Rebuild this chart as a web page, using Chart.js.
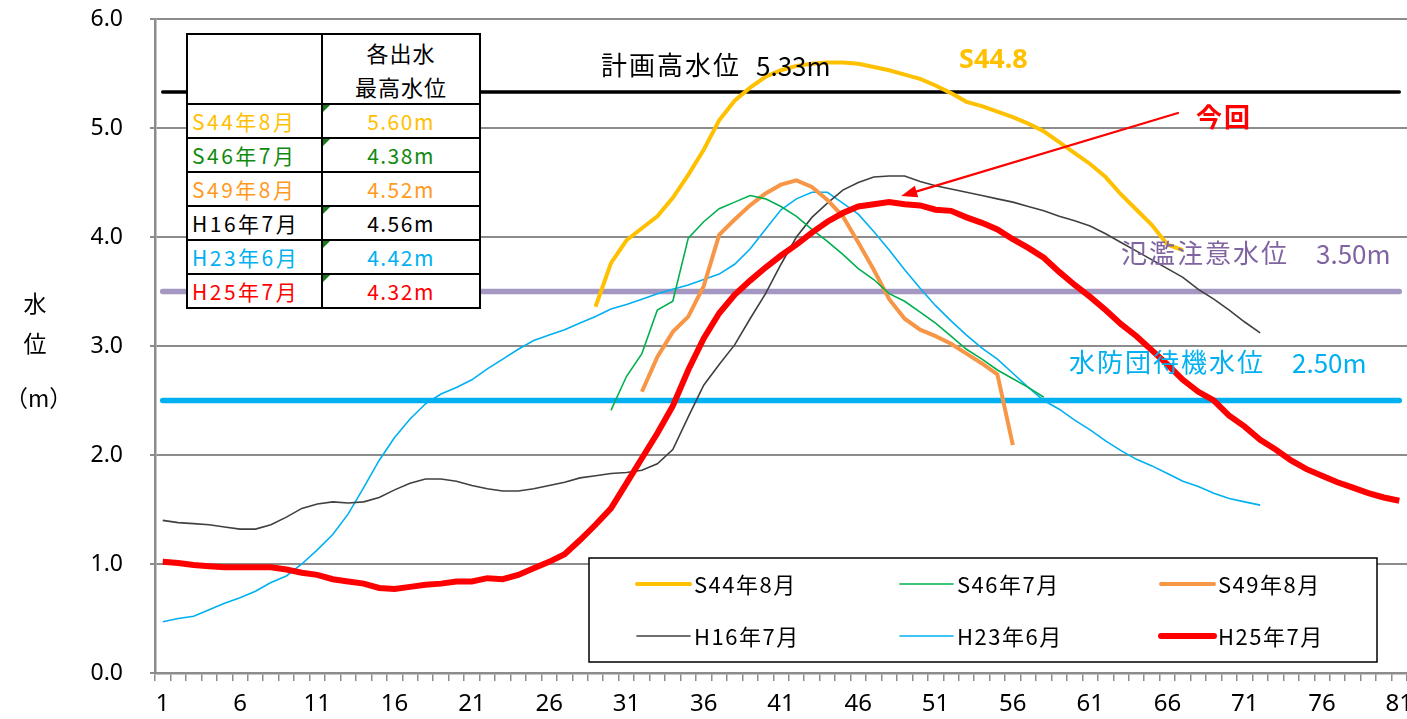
<!DOCTYPE html>
<html>
<head>
<meta charset="utf-8">
<script src="https://cdn.jsdelivr.net/npm/chart.js@4"></script>
<style>
  body { margin:0; background:#fff; overflow:hidden; width:1407px; height:719px; position:relative; }
  #wrap { position:absolute; left:0; top:0; width:1430px; height:719px; }
  .jp { font-family:"Noto Sans CJK JP", sans-serif; }
  #ytitle { position:absolute; left:5px; top:282px; width:60px; text-align:center; font-size:23px; line-height:40px; color:#000; }
  #ytitle .u { margin-top:15px; }
  #tbl { position:absolute; left:186px; top:33px; border-collapse:collapse; background:#fff; }
  #tbl td { border:2px solid #000; padding:0 4px; font-size:21px; line-height:1; height:32px; position:relative; letter-spacing:2.5px; }
  #tbl td.v { text-align:center; letter-spacing:1.5px; }
  #tbl td.h { text-align:center; font-size:22px; line-height:34px; height:67px; letter-spacing:1px; }
  #tbl td.tri::before { content:""; position:absolute; left:0; top:0; border-top:7px solid #1a7a1a; border-right:7px solid transparent; }
</style>
</head>
<body>
<div id="wrap"><canvas id="c" width="1430" height="719"></canvas></div>
<div id="ytitle" class="jp"><div>水</div><div>位</div><div class="u">（m）</div></div>
<table id="tbl" class="jp"></table>
<script>
const labels = Array.from({ length: 81 }, (_, i) => String(i + 1));

const seriesNames = ['S44年8月', 'S46年7月', 'S49年8月', 'H16年7月', 'H23年6月', 'H25年7月'];
const peakValues = [5.60, 4.38, 4.52, 4.56, 4.42, 4.32];
const tableColors = ['#FFC000', '#108A10', '#FF9A1F', '#000000', '#00B0F0', '#FF0000'];

// 水位データ (m)  null = データなし
const s44 = [
  null,null,null,null,null,null,null,null,null,null,
  null,null,null,null,null,null,null,null,null,null,
  null,null,null,null,null,null,null,null,3.36,3.76,
  3.97,4.08,4.19,4.36,4.57,4.80,5.07,5.25,5.37,5.47,
  5.53,5.57,5.59,5.60,5.60,5.59,5.56,5.53,5.49,5.45,
  5.39,5.32,5.24,5.20,5.15,5.10,5.04,4.97,4.87,4.77,
  4.67,4.55,4.39,4.25,4.11,3.93,3.88
];
const s46 = [
  null,null,null,null,null,null,null,null,null,null,
  null,null,null,null,null,null,null,null,null,null,
  null,null,null,null,null,null,null,null,null,2.41,
  2.72,2.93,3.33,3.41,3.99,4.14,4.26,4.32,4.38,4.35,
  4.28,4.19,4.07,3.96,3.84,3.71,3.61,3.48,3.41,3.31,
  3.21,3.09,2.97,2.88,2.78,2.70,2.62,2.53
];
const s49 = [
  null,null,null,null,null,null,null,null,null,null,
  null,null,null,null,null,null,null,null,null,null,
  null,null,null,null,null,null,null,null,null,null,
  null,2.58,2.90,3.13,3.27,3.55,4.02,4.16,4.29,4.40,
  4.48,4.52,4.46,4.34,4.19,3.95,3.70,3.43,3.25,3.15,
  3.09,3.02,2.93,2.84,2.74,2.09
];
const h16 = [
  1.40,1.38,1.37,1.36,1.34,1.32,1.32,1.36,1.43,1.51,
  1.55,1.57,1.56,1.57,1.61,1.68,1.74,1.78,1.78,1.76,
  1.72,1.69,1.67,1.67,1.69,1.72,1.75,1.79,1.81,1.83,
  1.84,1.86,1.92,2.05,2.35,2.64,2.83,3.01,3.25,3.48,
  3.75,4.00,4.18,4.31,4.43,4.50,4.55,4.56,4.56,4.51,
  4.47,4.44,4.41,4.38,4.35,4.32,4.28,4.24,4.19,4.15,
  4.10,4.03,3.95,3.87,3.79,3.71,3.63,3.52,3.43,3.33,
  3.22,3.12
];
const h23 = [
  0.47,0.50,0.52,0.58,0.64,0.69,0.75,0.83,0.89,1.00,
  1.13,1.27,1.46,1.70,1.95,2.16,2.33,2.47,2.56,2.62,
  2.69,2.79,2.88,2.97,3.05,3.10,3.15,3.21,3.27,3.34,
  3.38,3.43,3.48,3.52,3.56,3.61,3.66,3.75,3.89,4.07,
  4.25,4.35,4.41,4.41,4.31,4.21,4.05,3.88,3.70,3.53,
  3.37,3.23,3.10,2.98,2.88,2.75,2.62,2.50,2.42,2.32,
  2.23,2.13,2.04,1.96,1.90,1.83,1.76,1.71,1.65,1.60,
  1.57,1.54
];
const h25 = [
  1.02,1.01,0.99,0.98,0.97,0.97,0.97,0.97,0.95,0.92,
  0.90,0.86,0.84,0.82,0.78,0.77,0.79,0.81,0.82,0.84,
  0.84,0.87,0.86,0.90,0.96,1.02,1.09,1.22,1.36,1.51,
  1.74,1.97,2.20,2.45,2.78,3.07,3.30,3.47,3.60,3.72,
  3.83,3.93,4.04,4.14,4.22,4.28,4.30,4.32,4.30,4.29,
  4.25,4.24,4.18,4.13,4.07,3.98,3.90,3.81,3.68,3.56,
  3.45,3.33,3.20,3.09,2.96,2.83,2.69,2.58,2.50,2.36,
  2.26,2.14,2.05,1.95,1.87,1.81,1.75,1.70,1.65,1.61,
  1.58
];

// 基準水位
const planHigh = 5.33;   // 計画高水位
const floodWarn = 3.50;  // 氾濫注意水位
const standby = 2.50;    // 水防団待機水位

// table
const tbl = document.getElementById('tbl');
let html = '<tr><td class="h" style="width:125px"></td><td class="h" style="width:148px">各出水<br>最高水位</td></tr>';
seriesNames.forEach((n, i) => {
  const tri = i === 2 ? '' : ' tri';
  html += `<tr><td style="color:${tableColors[i]}">${n}</td><td class="v${tri}" style="color:${tableColors[i]}">${peakValues[i].toFixed(2)}m</td></tr>`;
});
tbl.innerHTML = html;

const flat = v => labels.map(() => v);

const lineStyle = (label, data, color, width, order) => ({
  label, data, borderColor: color, backgroundColor: color, borderWidth: width,
  pointRadius: 0, tension: 0, spanGaps: false, order
});

const datasets = [
  lineStyle(seriesNames[0], s44, '#FFC000', 4, 1),
  lineStyle(seriesNames[1], s46, '#00B050', 1.6, 1),
  lineStyle(seriesNames[2], s49, '#F79646', 4, 1),
  lineStyle(seriesNames[3], h16, '#404040', 1.6, 1),
  lineStyle(seriesNames[4], h23, '#00B0F0', 1.6, 1),
  lineStyle(seriesNames[5], h25, '#FF0000', 6, 0),
  Object.assign(lineStyle('計画高水位', flat(planHigh), '#000000', 3.5, 2), { borderCapStyle: 'round' }),
  Object.assign(lineStyle('氾濫注意水位', flat(floodWarn), '#A497C1', 5.5, 2), { borderCapStyle: 'round' }),
  Object.assign(lineStyle('水防団待機水位', flat(standby), '#00B0F0', 5.5, 2), { borderCapStyle: 'round' })
];

const jp = '"Noto Sans CJK JP", sans-serif';

const overlay = {
  id: 'overlay',
  afterDraw(chart) {
    const ctx = chart.ctx;
    const x = chart.scales.x, y = chart.scales.y;
    ctx.save();
    ctx.textBaseline = 'middle';

    // legend box
    const lx = 589, ly = 558, lw = 788, lh = 104;
    ctx.fillStyle = '#fff';
    ctx.fillRect(lx, ly, lw, lh);
    ctx.strokeStyle = '#000';
    ctx.lineWidth = 1.5;
    ctx.strokeRect(lx, ly, lw, lh);
    const cols = [637, 900, 1161], rows = [584, 636];
    ctx.font = '22px ' + jp;
    ctx.letterSpacing = '1.5px';
    for (let i = 0; i < 6; i++) {
      const ds = chart.data.datasets[i];
      const cx = cols[i % 3], cy = rows[Math.floor(i / 3)];
      ctx.strokeStyle = ds.borderColor;
      ctx.lineWidth = ds.borderWidth;
      ctx.lineCap = 'round';
      ctx.beginPath(); ctx.moveTo(cx, cy); ctx.lineTo(cx + 53, cy); ctx.stroke();
      ctx.fillStyle = '#000';
      ctx.textAlign = 'left';
      ctx.fillText(ds.label, cx + 57, cy + 1);
    }

    // annotations
    ctx.textAlign = 'left';
    ctx.font = '26px ' + jp;
    ctx.letterSpacing = '2px';
    ctx.fillStyle = '#000';
    ctx.fillText('計画高水位', 601, 65);
    ctx.letterSpacing = '0px';
    ctx.fillText('5.33m', 756, 66);

    ctx.fillStyle = '#8064A2';
    ctx.letterSpacing = '2px';
    ctx.fillText('氾濫注意水位', 1121, 253);
    ctx.letterSpacing = '0px';
    ctx.fillText('3.50m', 1316, 254);

    ctx.fillStyle = '#00B0F0';
    ctx.letterSpacing = '2px';
    ctx.fillText('水防団待機水位', 1069, 362);
    ctx.letterSpacing = '0px';
    ctx.fillText('2.50m', 1292, 363);

    ctx.fillStyle = '#FFC000';
    ctx.font = 'bold 27px "Noto Sans", sans-serif';
    ctx.fillText('S44.8', 959, 60);

    ctx.fillStyle = '#FF0000';
    ctx.font = 'bold 26px ' + jp;
    ctx.letterSpacing = '2px';
    ctx.fillText('今回', 1196, 117);
    ctx.letterSpacing = '0px';

    // arrow to H25 peak
    const tx = x.getPixelForValue(47) + 12, ty = y.getPixelForValue(4.32) - 6;
    const sx = 1178, sy = 113;
    const ang = Math.atan2(ty - sy, tx - sx);
    ctx.strokeStyle = '#FF0000';
    ctx.lineWidth = 2.2;
    ctx.beginPath(); ctx.moveTo(sx, sy);
    ctx.lineTo(tx - 12 * Math.cos(ang), ty - 12 * Math.sin(ang)); ctx.stroke();
    ctx.fillStyle = '#FF0000';
    ctx.beginPath();
    ctx.moveTo(tx, ty);
    ctx.lineTo(tx - 16 * Math.cos(ang) + 6 * Math.sin(ang), ty - 16 * Math.sin(ang) - 6 * Math.cos(ang));
    ctx.lineTo(tx - 16 * Math.cos(ang) - 6 * Math.sin(ang), ty - 16 * Math.sin(ang) + 6 * Math.cos(ang));
    ctx.closePath(); ctx.fill();
    ctx.restore();
  }
};

new Chart(document.getElementById('c'), {
  type: 'line',
  data: { labels, datasets },
  options: {
    responsive: false,
    animation: false,
    devicePixelRatio: 1,
    layout: { padding: { top: 19, right: 23, left: 0, bottom: 0 } },
    plugins: { legend: { display: false }, tooltip: { enabled: false } },
    scales: {
      x: {
        type: 'category',
        offset: true,
        afterFit(s) { s.height = 46; s.paddingLeft = 0; s.paddingRight = 0; },
        grid: { offset: true, drawOnChartArea: false, drawTicks: true, tickLength: 8, color: '#8c8c8c', lineWidth: 1.5 },
        border: { color: '#8c8c8c', width: 2.5 },
        ticks: {
          autoSkip: false, maxRotation: 0, padding: 9, color: '#000',
          font: { size: 24, family: '"Noto Sans", sans-serif' },
          callback(v, i) { return i % 5 === 0 ? labels[i] : ''; }
        }
      },
      y: {
        min: 0, max: 6,
        afterFit(s) { s.width = 155; s.paddingTop = 0; s.paddingBottom = 0; },
        grid: { color: '#8c8c8c', lineWidth: 2, tickLength: 5 },
        border: { color: '#8c8c8c', width: 2.5 },
        ticks: {
          stepSize: 1, padding: 27, color: '#000',
          font: { size: 23, family: '"Noto Sans", sans-serif' },
          callback(v) { return Number(v).toFixed(1); }
        }
      }
    }
  },
  plugins: [overlay]
});
</script>
</body>
</html>
